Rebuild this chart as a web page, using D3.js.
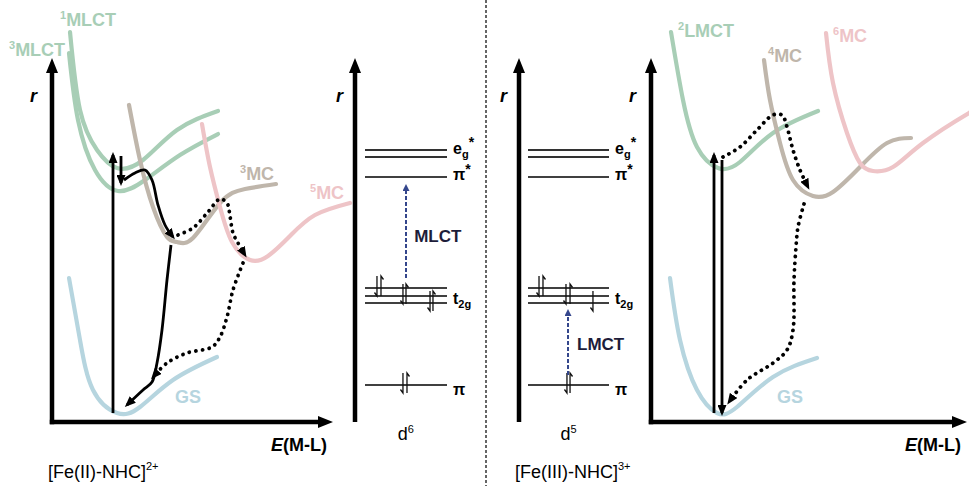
<!DOCTYPE html>
<html>
<head>
<meta charset="utf-8">
<script src="https://cdn.jsdelivr.net/npm/d3@7"></script>
<style>
  body { margin: 0; background: #fff; }
  svg { display: block; font-family: "Liberation Sans", Arial, sans-serif; }
</style>
</head>
<body>
<div id="chart"></div>
<script>
// potential energy curves, [distance, energy] in panel units
// Fe(II) panel
const fe2MLCT1 = [[4.5,97.5],[7,78],[11.25,68],[16.25,63.5],[22.75,65.5],[31.25,73],[41.5,77.75]];
const fe2MLCT3 = [[4.25,92.25],[6.5,75.5],[10.75,63],[16.5,57.75],[23.25,60.5],[32,66.75],[41.5,72]];
const fe2MC3 = [[19.25,79.25],[22,65.5],[25.25,53.75],[28.75,46.25],[31.25,45],[35.25,46],[42,54.75],[48.25,58.25],[56,59.5]];
const fe2MC5 = [[37.5,74.5],[39.5,63.75],[42,53.75],[45,45],[49.5,40.5],[54,41.5],[59.5,46.5],[65.75,51.75],[74.5,54.75]];
const fe2GS = [[4.25,36],[7,20.5],[10.25,8],[16.25,2.25],[22,3.75],[30.25,10.5],[41.25,16.25]];

// Fe(III) panel
const fe3LMCT2 = [[5,97.5],[8,80.5],[11.5,68.75],[16.75,63.5],[22.25,65],[30.5,72.25],[41.75,77.75]];
const fe3MC4 = [[28.25,90.5],[29.75,80.5],[32.25,69.75],[35.5,60.5],[40.5,56.5],[45.5,57.5],[52.25,63.75],[59,69.75],[65,71]];
const fe3MC6 = [[43.75,97.25],[45.5,84.75],[49,72.25],[52.25,64.75],[55.5,62.75],[60.5,63.75],[68,69.75],[79.5,77.25],[83,79]];
const fe3GS = [[4.75,36],[7.25,20.5],[11.5,8],[16.5,2.25],[21.5,3.75],[30.5,11.25],[41.5,16]];

// relaxation pathways
const fe2Excite = [[15.25,2.25],[15.25,66.75]];
const fe2ISC = [[17.25,66.5],[17.25,59.75]];
const fe2ToMC3 = [[18,60.5],[20.75,62.25],[23.25,63],[25,60.5],[26.5,54.25],[28.25,49.25],[30.25,46.25]];
const fe2MC3ToGS = [[29.75,44.25],[28.75,35.5],[27.5,23],[26.25,14.75],[25,10],[22.75,8],[18.75,4.25]];
const fe2MC3ToMC5 = [[31.5,46.75],[35.25,48.5],[39,52.5],[42,55.75],[43.75,54.75],[44.5,51.5],[45.25,47.25],[46.5,44.75],[48.25,41.75]];
const fe2MC5ToGS = [[47.75,39.75],[45.25,33],[43.75,26.25],[42,21.25],[40,18.75],[33.75,17.25],[28.75,14.75],[25.25,11.25]];

const fe3Excite = [[15.75,2.25],[15.75,66.75]];
const fe3Return = [[17.75,65.5],[17.75,2.25]];
const fe3ToMC4 = [[18,66.25],[22.25,68.75],[26.5,73],[30.5,76.75],[32.75,76.75],[34,73.75],[35.5,68],[37.25,63],[39.25,58.75]];
const fe3MC4ToGS = [[38.25,54.5],[36.75,48.75],[36.25,43.75],[35.75,35.5],[35.5,23],[34,18],[30.5,14.75],[24,10.5],[19.5,5]];

// state labels: [sup, name, x, energy]
const fe2Labels = [['1','MLCT',2,99],['3','MLCT',-10.75,91.5],['3','MC',47,60.5],['5','MC',64.5,55.75],['','GS',30.75,4.75]];
const fe3Labels = [['2','LMCT',6.75,96.25],['4','MC',29.25,90],['6','MC',45.5,95],['','GS',31.5,4.75]];

// MO diagram levels (energy)
const levelEnergy = [68, 66.25, 61.25, 33.5, 31.5, 29.75, 9.25];
const levelNames = [['e','g','*'],['π','','*'],['t','2g',''],['π','','']];
const levelNameEnergy = [67, 60.5, 29.5, 6.75];

// electrons: [position along level, level index, spin (+1 up / -1 down)]
const d6Spins = [[0.146,3,-1],[0.195,3,1],[0.463,4,-1],[0.5,4,1],[0.793,5,-1],[0.829,5,1],[0.463,6,-1],[0.512,6,1]];
const d5Spins = [[0.136,3,-1],[0.185,3,1],[0.469,4,-1],[0.519,4,1],[0.802,5,-1],[0.481,6,-1],[0.519,6,1]];

// charge transfer arrows: [position, from energy, to energy]
const mlctArrow = [0.5, 36, 60];
const lmctArrow = [0.494, 11.75, 28.75];

const W = 969, H = 486;

const yE = d3.scaleLinear().domain([0, 91]).range([422, 58]);
const xLeft = d3.scaleLinear().domain([0, 70.25]).range([52, 333]);
const xRight = d3.scaleLinear().domain([0, 79]).range([651, 967]);
const xMO1 = d3.scaleLinear().domain([0, 1]).range([365, 447]);
const xMO2 = d3.scaleLinear().domain([0, 1]).range([528, 609]);

const green = "#a8ceb6", taupe = "#bfb6ab", pink = "#eec4c7", blue = "#b6d5df";
const navy = "#34468c";

const svg = d3.select("#chart").append("svg")
  .attr("width", W)
  .attr("height", H);

let defs = svg.append("defs");

defs.append("marker")
  .attr("id", "axisHead")
  .attr("markerUnits", "userSpaceOnUse")
  .attr("markerWidth", 15).attr("markerHeight", 12)
  .attr("refX", 6).attr("refY", 6)
  .attr("orient", "auto")
  .append("path").attr("d", "M0,0L15,6L0,12Z").attr("fill", "#000");

defs.append("marker")
  .attr("id", "head")
  .attr("markerUnits", "userSpaceOnUse")
  .attr("markerWidth", 11).attr("markerHeight", 9)
  .attr("refX", 8).attr("refY", 4.5)
  .attr("orient", "auto")
  .append("path").attr("d", "M0,0L11,4.5L0,9Z").attr("fill", "#000");

defs.append("marker")
  .attr("id", "headNavy")
  .attr("markerUnits", "userSpaceOnUse")
  .attr("markerWidth", 7).attr("markerHeight", 7)
  .attr("refX", 5).attr("refY", 3.5)
  .attr("orient", "auto")
  .append("path").attr("d", "M0,0L7,3.5L0,7Z").attr("fill", navy);

function axisArrow(x1, y1, x2, y2) {
  // shorten line so the arrowhead tip lands on (x2,y2)
  let dx = x2 - x1, dy = y2 - y1, len = Math.sqrt(dx * dx + dy * dy);
  svg.append("line")
    .attr("x1", x1).attr("y1", y1)
    .attr("x2", x2 - dx / len * 9).attr("y2", y2 - dy / len * 9)
    .attr("stroke", "#000")
    .attr("stroke-width", 4.5)
    .attr("marker-end", "url(#axisHead)");
}

function energyPanel(x, xMax, curves, paths, labels) {
  axisArrow(x(0), yE(0) + 2.2, x(0), yE(91));
  axisArrow(x(0) - 2.2, yE(0), x(xMax), yE(0));

  svg.append("text")
    .attr("x", x(-5.5)).attr("y", yE(80))
    .attr("font-size", 18).attr("font-weight", "bold").attr("font-style", "italic")
    .text("r");

  let lbl = svg.append("text")
    .attr("x", x(xMax) - 6).attr("y", yE(0) + 29)
    .attr("text-anchor", "end")
    .attr("font-size", 18).attr("font-weight", "bold");
  lbl.append("tspan").attr("font-style", "italic").text("E");
  lbl.append("tspan").text("(M-L)");

  let curveLine = d3.line()
    .x(d => x(d[0]))
    .y(d => yE(d[1]))
    .curve(d3.curveNatural);

  let pathLine = d3.line()
    .x(d => x(d[0]))
    .y(d => yE(d[1]))
    .curve(d3.curveCatmullRom.alpha(0.5));

  curves.forEach(c => {
    svg.append("path")
      .datum(c.data)
      .attr("fill", "none")
      .attr("stroke", c.color)
      .attr("stroke-width", 4.2)
      .attr("stroke-linecap", "round")
      .attr("d", curveLine);
  });

  labels.forEach((l, i) => {
    let t = svg.append("text")
      .attr("x", x(l[2])).attr("y", yE(l[3]))
      .attr("font-size", 18).attr("font-weight", "bold")
      .attr("fill", curves[i].color);
    if (l[0]) {
      t.append("tspan").attr("font-size", 11).attr("dy", -7).text(l[0]);
      t.append("tspan").attr("dy", 7).text(l[1]);
    } else {
      t.text(l[1]);
    }
  });

  paths.forEach(p => {
    svg.append("path")
      .datum(p.data)
      .attr("fill", "none")
      .attr("stroke", "#000")
      .attr("stroke-width", p.dotted ? 3.8 : 2.8)
      .attr("stroke-linecap", p.dotted ? "round" : "butt")
      .attr("stroke-dasharray", p.dotted ? "0.1,6.6" : null)
      .attr("marker-end", "url(#head)")
      .attr("d", pathLine);
  });
}

energyPanel(xLeft, 70.25,
  [{data: fe2MLCT1, color: green}, {data: fe2MLCT3, color: green}, {data: fe2MC3, color: taupe},
   {data: fe2MC5, color: pink}, {data: fe2GS, color: blue}],
  [{data: fe2Excite}, {data: fe2ISC}, {data: fe2ToMC3}, {data: fe2MC3ToGS},
   {data: fe2MC3ToMC5, dotted: true}, {data: fe2MC5ToGS, dotted: true}],
  fe2Labels);

energyPanel(xRight, 79,
  [{data: fe3LMCT2, color: green}, {data: fe3MC4, color: taupe}, {data: fe3MC6, color: pink},
   {data: fe3GS, color: blue}],
  [{data: fe3Excite}, {data: fe3Return},
   {data: fe3ToMC4, dotted: true}, {data: fe3MC4ToGS, dotted: true}],
  fe3Labels);

function moPanel(x, axisX, spins, ct, ctName, ctNamePos, dName) {
  axisArrow(axisX, yE(0), axisX, yE(91));

  svg.append("text")
    .attr("x", axisX - 19).attr("y", yE(80))
    .attr("font-size", 18).attr("font-weight", "bold").attr("font-style", "italic")
    .text("r");

  svg.selectAll(null)
    .data(levelEnergy)
    .enter()
    .append("line")
    .attr("x1", x(0)).attr("x2", x(1))
    .attr("y1", d => yE(d)).attr("y2", d => yE(d))
    .attr("stroke", (d, i) => i < 2 ? "#333" : "#000")
    .attr("stroke-width", (d, i) => i < 2 ? 1.8 : 1.4);

  levelNames.forEach((n, i) => {
    let t = svg.append("text")
      .attr("x", x(1) + 6).attr("y", yE(levelNameEnergy[i]))
      .attr("font-size", 16).attr("font-weight", "bold");
    t.append("tspan").text(n[0]);
    if (n[1]) t.append("tspan").attr("font-size", 11).attr("dy", 4).text(n[1]);
    if (n[2]) t.append("tspan").attr("font-size", 14).attr("dy", n[1] ? -11 : -6).text(n[2]);
  });

  spins.forEach(s => {
    let sx = x(s[0]), ly = yE(levelEnergy[s[1]]);
    let top = ly - 12, bot = ly + 8;
    let d = s[2] > 0
      ? "M" + sx + "," + bot + "L" + sx + "," + top + "L" + (sx + 2.5) + "," + (top + 3.5)
      : "M" + sx + "," + top + "L" + sx + "," + bot + "L" + (sx - 2.5) + "," + (bot - 3.5);
    svg.append("path")
      .attr("d", d)
      .attr("fill", "none")
      .attr("stroke", "#111")
      .attr("stroke-width", 1.3);
  });

  svg.append("line")
    .attr("x1", x(ct[0])).attr("x2", x(ct[0]))
    .attr("y1", yE(ct[1])).attr("y2", yE(ct[2]) + 4)
    .attr("stroke", navy)
    .attr("stroke-width", 2)
    .attr("stroke-dasharray", "4,2")
    .attr("marker-end", "url(#headNavy)");

  svg.append("text")
    .attr("x", x(ctNamePos[0])).attr("y", yE(ctNamePos[1]))
    .attr("font-size", 17).attr("font-weight", "bold")
    .attr("fill", "#1d1d3a")
    .text(ctName);

  let dl = svg.append("text")
    .attr("x", x(0.4)).attr("y", yE(0) + 18)
    .attr("font-size", 18);
  dl.append("tspan").text("d");
  dl.append("tspan").attr("font-size", 11).attr("dy", -7).text(dName);
}

moPanel(xMO1, 355, d6Spins, mlctArrow, "MLCT", [0.6, 45], "6");
moPanel(xMO2, 519, d5Spins, lmctArrow, "LMCT", [0.605, 18], "5");

// divider between the two complexes
svg.append("line")
  .attr("x1", 486).attr("x2", 486)
  .attr("y1", 0).attr("y2", H)
  .attr("stroke", "#333")
  .attr("stroke-width", 1.5)
  .attr("stroke-dasharray", "3,2");

// complex names
const complexNames = [["[Fe(II)-NHC]", "2+", 48], ["[Fe(III)-NHC]", "3+", 515]];
complexNames.forEach(c => {
  let t = svg.append("text")
    .attr("x", c[2]).attr("y", 478)
    .attr("font-size", 18);
  t.append("tspan").text(c[0]);
  t.append("tspan").attr("font-size", 11).attr("dy", -8).text(c[1]);
});
</script>
</body>
</html>
